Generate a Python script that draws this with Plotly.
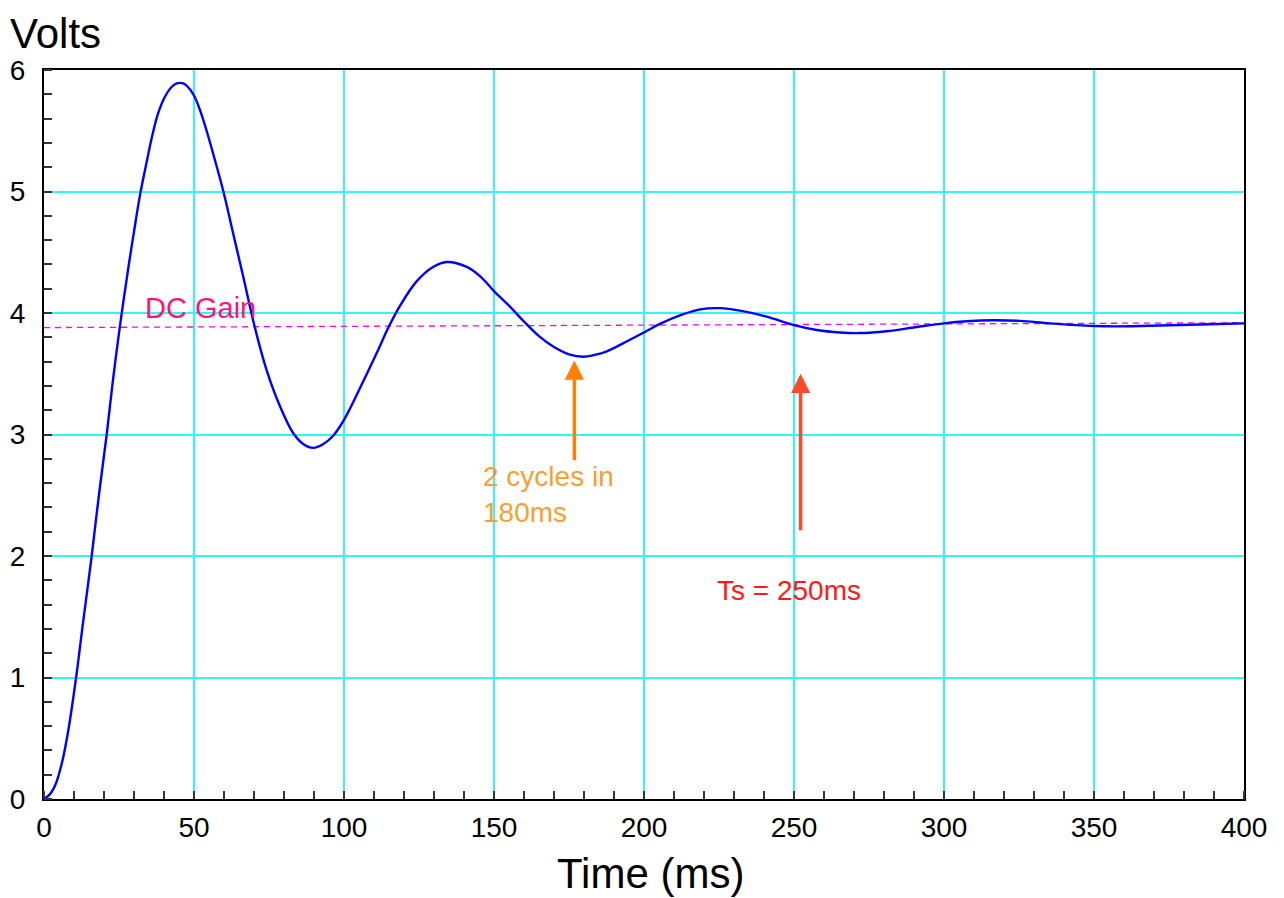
import plotly.graph_objects as go

# ---- data ----
time_ms = [0, 2, 4, 6, 8, 10.7, 13, 15.9, 18.3, 20.9, 23, 25.3, 28.1, 30, 32, 34.2, 36, 38,
           40.3, 42.5, 44.2, 46.4, 48, 50, 52, 54.2, 56.4, 59.8, 63.1, 66.4, 70.3, 74.2, 78.7,
           83.1, 86.5, 89.8, 93, 96.4, 100, 105.3, 110.9, 114.8, 118.7, 124.2, 129.8, 134.2,
           140.9, 145.5, 150, 155, 160, 165, 170, 175, 179.8, 183.5, 187.6, 193, 200, 205.3,
           213.1, 218.7, 225.3, 232, 240.9, 250, 257.6, 265.3, 272, 280.9, 290.9, 300, 307.6,
           316.4, 325.3, 335.3, 350, 357.6, 368.7, 385.3, 400]
volts = [0, 0.04, 0.13, 0.30, 0.55, 1.0, 1.45, 2.0, 2.5, 3.0, 3.45, 3.89, 4.37, 4.67, 4.97,
         5.24, 5.45, 5.64, 5.78, 5.86, 5.89, 5.89, 5.86, 5.79, 5.67, 5.50, 5.31, 5.0, 4.65,
         4.30, 3.88, 3.53, 3.23, 3.01, 2.92, 2.89, 2.92, 2.99, 3.12, 3.38, 3.67, 3.88, 4.06,
         4.26, 4.38, 4.42, 4.38, 4.30, 4.18, 4.06, 3.93, 3.81, 3.72, 3.66, 3.64, 3.655, 3.685,
         3.75, 3.84, 3.91, 3.99, 4.03, 4.04, 4.02, 3.97, 3.90, 3.86, 3.84, 3.835, 3.85, 3.885,
         3.915, 3.932, 3.94, 3.935, 3.915, 3.893, 3.89, 3.895, 3.905, 3.915]

dc_gain_t = [0, 400]
dc_gain_v = [3.88, 3.92]

x_ticks = [0, 50, 100, 150, 200, 250, 300, 350, 400]
y_ticks = [0, 1, 2, 3, 4, 5, 6]

# annotation anchors (data units)
cycles_arrow_x, cycles_arrow_tail, cycles_arrow_head = 176.8, 2.775, 3.61
ts_arrow_x, ts_arrow_tail, ts_arrow_head = 252.2, 2.20, 3.50

FONT = "Liberation Sans, Arial, Helvetica, sans-serif"

fig = go.Figure()
fig.add_trace(go.Scatter(x=dc_gain_t, y=dc_gain_v, mode="lines",
                         line=dict(color="#ff00ff", width=1.3, dash="6px,5px"),
                         hoverinfo="skip", showlegend=False))
fig.add_trace(go.Scatter(x=time_ms, y=volts, mode="lines",
                         line=dict(color="#0000ff", width=2.4, shape="spline", smoothing=1.0),
                         showlegend=False))

axis_common = dict(
    showline=True, linecolor="black", linewidth=2, mirror=True,
    showgrid=True, gridcolor="#33f5f5", gridwidth=1.5,
    zeroline=False, ticks="", automargin=False,
    tickfont=dict(family=FONT, size=28, color="black"),
)

fig.update_xaxes(range=[0, 400], tickvals=x_ticks, ticklabelstandoff=2,
                 minor=dict(dtick=10, ticks="inside", ticklen=8, tickwidth=1.5,
                            tickcolor="#333333", showgrid=False),
                 **axis_common)
fig.update_yaxes(range=[0, 6], tickvals=y_ticks, ticklabelstandoff=11,
                 minor=dict(dtick=0.2, ticks="inside", ticklen=8, tickwidth=1.5,
                            tickcolor="#333333", showgrid=False),
                 **axis_common)

# axis titles as free text
fig.add_annotation(text="Volts", xref="paper", yref="paper", x=-0.03, y=1.0845,
                   xanchor="left", yanchor="top", showarrow=False,
                   font=dict(family=FONT, size=42, color="black"))
fig.add_annotation(text="Time (ms)", xref="paper", yref="paper", x=0.505, y=-0.102,
                   xanchor="center", yanchor="middle", showarrow=False,
                   font=dict(family=FONT, size=42, color="black"))

# DC gain label
fig.add_annotation(text="DC Gain", x=33.0, y=4.04, xanchor="left", yanchor="middle",
                   showarrow=False, font=dict(family=FONT, size=29, color="#ff1478"))

# 2 cycles annotation
fig.add_annotation(x=cycles_arrow_x, y=cycles_arrow_head, ax=cycles_arrow_x, ay=cycles_arrow_tail,
                   xref="x", yref="y", axref="x", ayref="y", text="", showarrow=True,
                   arrowhead=2, arrowsize=1.1, arrowwidth=3.5, arrowcolor="#ff7f00")
fig.add_annotation(text="2 cycles in<br>180ms", x=145.6, y=2.505, xanchor="left", yanchor="middle",
                   align="left", showarrow=False,
                   font=dict(family=FONT, size=28, color="#f5a033"))

# Ts annotation
fig.add_annotation(x=ts_arrow_x, y=ts_arrow_head, ax=ts_arrow_x, ay=ts_arrow_tail,
                   xref="x", yref="y", axref="x", ayref="y", text="", showarrow=True,
                   arrowhead=2, arrowsize=1.1, arrowwidth=3.5, arrowcolor="#ff4a2a")
fig.add_annotation(text="Ts = 250ms", x=223.8, y=1.716, xanchor="left", yanchor="middle",
                   showarrow=False, font=dict(family=FONT, size=28, color="#ff1a1a"))

fig.update_layout(
    width=1284, height=898,
    margin=dict(l=36, r=48, t=62, b=107),
    paper_bgcolor="white", plot_bgcolor="white",
    font=dict(family=FONT),
)

fig.write_html("out.html")
